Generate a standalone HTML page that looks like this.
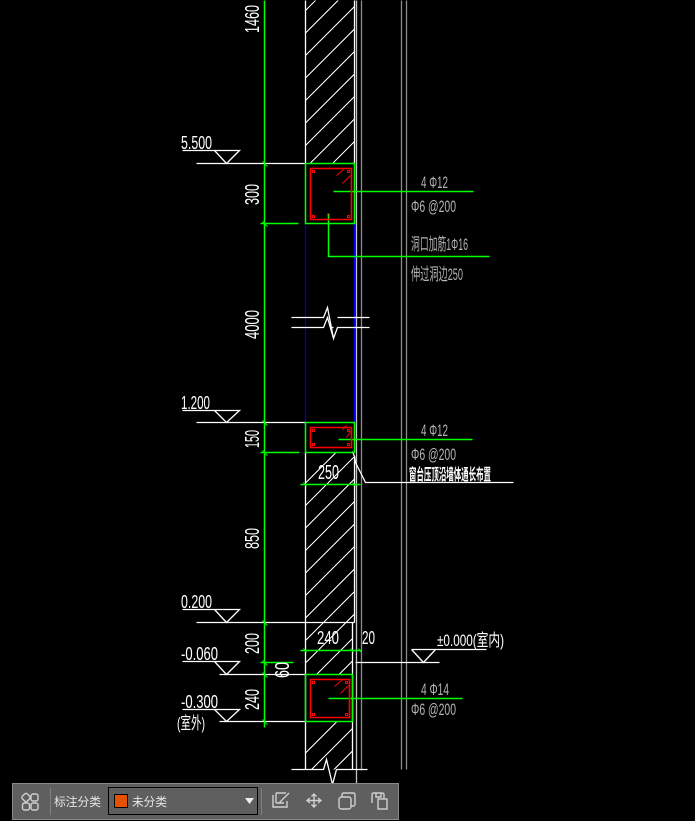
<!DOCTYPE html>
<html><head><meta charset="utf-8">
<style>
html,body{margin:0;padding:0;background:#000;width:695px;height:821px;overflow:hidden}
svg{position:absolute;left:0;top:0}
text{font-family:"Liberation Sans","Noto Sans CJK SC",sans-serif}
.w{fill:#fff}.g{fill:#b4b4b4}
</style></head><body>
<svg width="695" height="821" viewBox="0 0 695 821">
<defs>
<clipPath id="h"><rect x="305" y="0" width="49" height="163"/><rect x="305" y="452" width="49" height="170"/><rect x="305" y="622" width="47" height="52"/><rect x="305" y="721" width="47" height="48"/></clipPath>
</defs>
<g transform="translate(.5 .5)" fill="none" stroke-width="1.300">
<!-- hatch -->
<g clip-path="url(#h)" stroke="#fff" stroke-width="1" shape-rendering="crispEdges">
<path d="M300 15L360 -45M300 37.500L360 -22.500M300 60L360 0M300 82.500L360 22.500M300 105L360 45M300 127.500L360 67.500M300 150L360 90M300 172.500L360 112.500M300 195L360 135"/>
<path d="M300 487.500L360 427.500M300 510L360 450M300 532.500L360 472.500M300 555L360 495M300 577.500L360 517.500M300 600L360 540M300 622.500L360 562.500M300 645L360 585M300 667.500L360 607.500M300 690L360 630M300 712.500L360 652.500"/>
<path d="M300 780L360 720M300 802.500L360 742.500M300 825L360 765M300 757.500L360 697.500"/>
</g>
<!-- gray verticals -->
<path stroke="#c4c4c4" d="M356 0V783"/>
<path stroke="#8c8c8c" d="M361 0V770M401 0V769M406 0V769"/>
<!-- wall -->
<path stroke="#fff" d="M305 0V163M354 0V163M305 452V769M354 456V622M352 622V769"/>
<!-- blue -->
<path stroke="#0000b4" d="M305 223V422"/>
<path stroke="#0000ff" stroke-width="1.600" d="M354 223V422"/>
<!-- level lines -->
<path stroke="#fff" d="M196 163H305M182 150H239L226 163L214 150"/>
<path stroke="#fff" d="M196 422H305M182 410H239L226 422L214 410"/>
<path stroke="#fff" d="M196 622H354M182 609H239L226 622L214 609"/>
<path stroke="#fff" d="M219 674H305M182 661H239L226 674L214 661"/>
<path stroke="#fff" d="M219 721H305M182 709H239L226 721L214 709"/>
<path stroke="#fff" d="M355 662H439M411 649H486M411 649L423 662L435 649"/>
<!-- break lines -->
<path stroke="#fff" d="M291 317H323L327 307L333 338L337 327H369M291 327H323L327 317L333 338M331 327H333M337 317H369"/>
<path stroke="#fff" d="M291 769H323L326 759L332 784L336 769H367"/>
<!-- white leader -->
<path stroke="#fff" d="M352 451L354 456L355 462M355 462L365 482H513"/>
<!-- green -->
<g stroke="#00ff00" stroke-width="1.500">
<path d="M264 0V727"/>
<path d="M305 163H354V223H305ZM305 422H354V452H305ZM305 674H352V721H305Z"/>
<path d="M260 223H298M260 452H299M300 484H360M300 650H361M260 662H293"/>
<path d="M333 191H473M328 214V256H489M338 439H472M328 698H462"/>
<path stroke-width="1" d="M262 161L267 166M262 221L267 226M262 420L267 425M262 450L267 455M262 620L267 625M262 660L267 665M262 672L267 677M262 719L267 724M303 482L306 486M352 482L355 486M303 648L306 652M350 648L353 652M358 648L361 652"/>
</g>
<!-- rebar -->
<g stroke="#ff0000" stroke-width="1.600">
<path d="M310 168H351V219H310ZM310 427H351V447H310ZM310 679H349V717H310Z"/>
<path stroke-width="1" d="M336 175L343 169M342 183L350 175"/>
<path stroke-width="1" d="M342 429L346 425M346 437L350 431"/>
<path stroke-width="1" d="M334 686L342 679M340 693L348 685"/>
<path stroke-width="1" d="M312 170h2v2h-2zM347 170h2v2h-2zM312 215h2v2h-2zM347 215h2v2h-2zM312 429h2v2h-2zM347 429h2v2h-2zM312 443h2v2h-2zM347 443h2v2h-2zM312 681h2v2h-2zM345 681h2v2h-2zM312 713h2v2h-2zM345 713h2v2h-2z"/>
</g>
<rect x="327" y="213" width="2" height="2" fill="#c08000" stroke="none"/>
</g>

<!-- horizontal labels -->
<g font-size="18">
<text class="w" x="181" y="149" textLength="31" lengthAdjust="spacingAndGlyphs">5.500</text>
<text class="w" x="181" y="409" textLength="29" lengthAdjust="spacingAndGlyphs">1.200</text>
<text class="w" x="181" y="608" textLength="31" lengthAdjust="spacingAndGlyphs">0.200</text>
<text class="w" x="181" y="660" textLength="37" lengthAdjust="spacingAndGlyphs">-0.060</text>
<text class="w" x="181" y="708" textLength="37" lengthAdjust="spacingAndGlyphs">-0.300</text>
<text class="w" x="318" y="479" textLength="21" font-size="20" lengthAdjust="spacingAndGlyphs">250</text>
<text class="w" x="317" y="644" textLength="22" lengthAdjust="spacingAndGlyphs">240</text>
<text class="w" x="362" y="644" textLength="13" lengthAdjust="spacingAndGlyphs">20</text>
<text class="w" x="437" y="646" textLength="67" font-size="17" lengthAdjust="spacingAndGlyphs">±0.000(室内)</text>
<text class="w" x="177" y="729" textLength="28" font-size="17" lengthAdjust="spacingAndGlyphs">(室外)</text>
<text class="w" x="409" y="480" textLength="82" font-size="16" font-weight="700" lengthAdjust="spacingAndGlyphs">窗台压顶沿墙体通长布置</text>
</g>
<g font-size="17">
<text class="g" x="421" y="188" textLength="27" lengthAdjust="spacingAndGlyphs">4 Φ12</text>
<text class="g" x="411" y="212" textLength="45" lengthAdjust="spacingAndGlyphs">Φ6 @200</text>
<text class="g" x="411" y="250" textLength="57" lengthAdjust="spacingAndGlyphs">洞口加筋1Φ16</text>
<text class="g" x="411" y="280" textLength="52" lengthAdjust="spacingAndGlyphs">伸过洞边250</text>
<text class="g" x="421" y="436" textLength="27" lengthAdjust="spacingAndGlyphs">4 Φ12</text>
<text class="g" x="411" y="460" textLength="45" lengthAdjust="spacingAndGlyphs">Φ6 @200</text>
<text class="g" x="421" y="695" textLength="28" lengthAdjust="spacingAndGlyphs">4 Φ14</text>
<text class="g" x="411" y="715" textLength="45" lengthAdjust="spacingAndGlyphs">Φ6 @200</text>
</g>
<!-- rotated labels -->
<g font-size="20">
<text class="w" transform="translate(259 33) rotate(-90)" textLength="28" lengthAdjust="spacingAndGlyphs">1460</text>
<text class="w" transform="translate(259 205) rotate(-90)" textLength="21" lengthAdjust="spacingAndGlyphs">300</text>
<text class="w" transform="translate(259 339) rotate(-90)" textLength="29" lengthAdjust="spacingAndGlyphs">4000</text>
<text class="w" transform="translate(259 448) rotate(-90)" textLength="18" lengthAdjust="spacingAndGlyphs">150</text>
<text class="w" transform="translate(259 549) rotate(-90)" textLength="21" lengthAdjust="spacingAndGlyphs">850</text>
<text class="w" transform="translate(259 654) rotate(-90)" textLength="21" lengthAdjust="spacingAndGlyphs">200</text>
<text class="w" transform="translate(259 710) rotate(-90)" textLength="21" lengthAdjust="spacingAndGlyphs">240</text>
<text class="w" transform="translate(289 678) rotate(-90)" textLength="16" lengthAdjust="spacingAndGlyphs">60</text>
</g>

<!-- toolbar -->
<rect x="12.500" y="783.500" width="386" height="36" fill="#5f5f5f" stroke="#8a8a8a" stroke-width="1" shape-rendering="crispEdges"/>
<g fill="none" stroke="#cfcfcf" stroke-width="1.400">
<rect x="22.500" y="794" width="7" height="7" rx="2" transform="rotate(45 26 797.500)"/>
<rect x="31" y="794" width="7" height="7" rx="2"/>
<rect x="22.500" y="803" width="7" height="7" rx="2"/>
<rect x="31" y="803" width="7" height="7" rx="2"/>
<path d="M273 795V807H287V801M276 793H286M276 793V803M276 803H284M279 803L289 793"/>
<path d="M314 794V807M307 800.500H321M311.500 796.500L314 794L316.500 796.500M311.500 804.500L314 807L316.500 804.500M310 798L307 800.500L310 803M318 798L321 800.500L318 803"/>
<rect x="339" y="797" width="12" height="12" rx="2.500"/>
<path d="M342 797V795Q342 793 344 793H353Q355 793 355 795V804Q355 806 353 806H351"/>
<path d="M372 803V795Q372 793 374 793H382Q384 793 384 795V799M376 793V797H381V793"/>
<rect x="378" y="799" width="9" height="10"/>
</g>
<path d="M50.500 788V815M261.500 788V815" stroke="#808080" stroke-width="1" shape-rendering="crispEdges"/>
<text x="54" y="806" font-size="12" fill="#e6e6e6" textLength="47" lengthAdjust="spacingAndGlyphs">标注分类</text>
<rect x="108.500" y="787.500" width="149" height="27" fill="#5f5f5f" stroke="#000" shape-rendering="crispEdges"/>
<rect x="114.500" y="794.500" width="13" height="13" fill="#e65100" stroke="#000" shape-rendering="crispEdges"/>
<text x="132" y="806" font-size="12" fill="#e6e6e6" textLength="35" lengthAdjust="spacingAndGlyphs">未分类</text>
<path d="M245 798H254L249.500 804Z" fill="#f0f0f0"/>
</svg>
</body></html>
